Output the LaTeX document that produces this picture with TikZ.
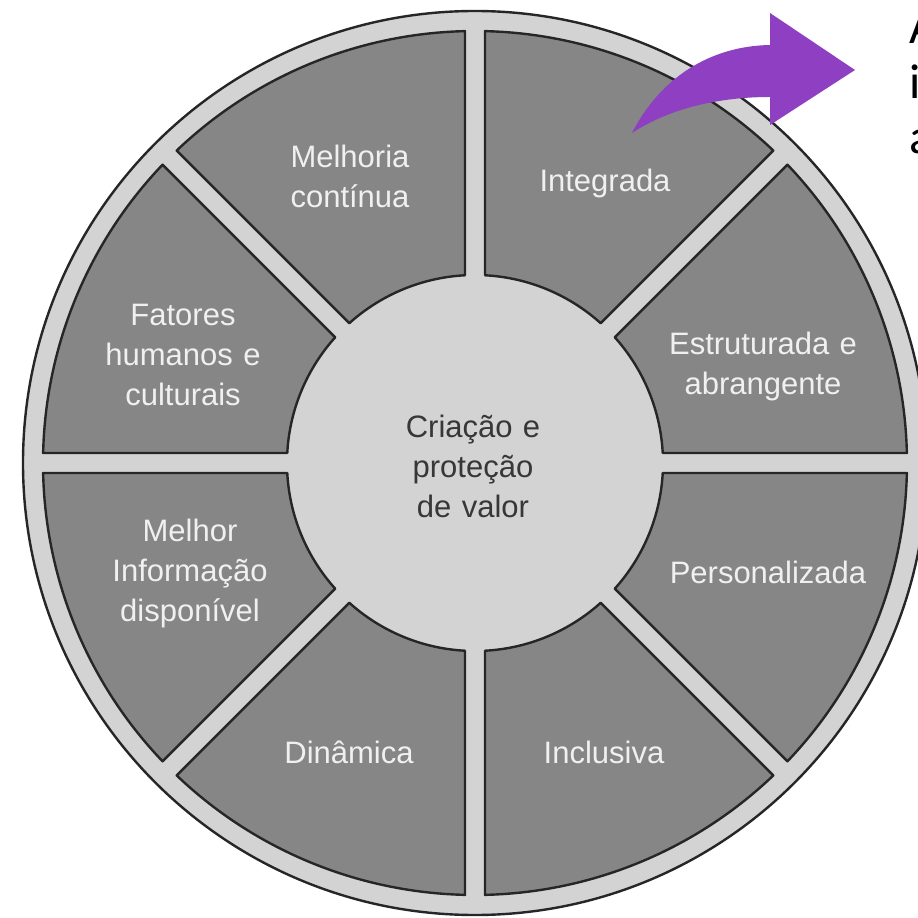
\documentclass[tikz,border=0pt]{standalone}
\usepackage{fontspec}
\setmainfont{Liberation Sans}
\newfontfamily\calfont{Carlito}
\definecolor{ringgray}{RGB}{211,211,211}
\definecolor{secgray}{RGB}{134,134,134}
\definecolor{edgedark}{RGB}{38,38,38}
\definecolor{arrowpurple}{RGB}{143,64,194}
\definecolor{centertext}{RGB}{55,55,55}
\definecolor{labeltext}{RGB}{240,240,240}
\begin{document}
\begin{tikzpicture}[x=1pt,y=1pt,
  sectorbox/.style={fill=secgray, draw=edgedark, line width=2.4pt, line join=round},
  seclabel/.style={text=labeltext, font=\fontsize{31}{40}\selectfont, align=center, text width=240pt, anchor=base, inner sep=0pt},
  corelabel/.style={text=centertext, font=\fontsize{31}{40}\selectfont, align=center, text width=240pt, anchor=base, inner sep=0pt},
  sidetext/.style={text=black, font=\calfont\fontsize{49}{55}\selectfont, align=left, text width=100pt, anchor=base west, inner sep=0pt}]
\useasboundingbox (-475,-455) rectangle (443,463);
\fill[white] (-475,-455) rectangle (443,463);
\node[circle, minimum size=904pt, fill=ringgray, draw=edgedark, line width=2.4pt, inner sep=0pt] (wheel) at (0,0) {};
\foreach \k in {0,...,7} {
  \pgfmathsetmacro\oa{\k*45+1.326}
  \pgfmathsetmacro\ob{\k*45+45-1.326}
  \pgfmathsetmacro\ia{\k*45+3.05}
  \pgfmathsetmacro\ib{\k*45+45-3.05}
  \draw[sectorbox] (\oa:432) arc[start angle=\oa, end angle=\ob, radius=432] -- (\ib:188) arc[start angle=\ib, end angle=\ia, radius=188] -- cycle;
}
\node[seclabel] (integrada) at (130,271) {Integrada};
\node[seclabel] (melhoria) at (-125,295) {Melhoria\\contínua};
\node[seclabel] (estruturada) at (288,108) {Estruturada e\\abrangente};
\node[seclabel] (personalizada) at (293,-120) {Personalizada};
\node[seclabel] (inclusiva) at (129,-300) {Inclusiva};
\node[seclabel] (dinamica) at (-126,-300) {Dinâmica};
\node[seclabel] (informacao) at (-285,-78) {Melhor\\Informação\\disponível};
\node[seclabel] (fatores) at (-292,137) {Fatores\\humanos e\\culturais};
\node[corelabel] (core) at (-2,25) {Criação e\\proteção\\de valor};
\fill[arrowpurple] (157,330) .. controls (185,385) and (235,417) .. (295,418) -- (295,450) -- (380,393) -- (295,338) -- (295,366) .. controls (245,366) and (195,355) .. (157,330) -- cycle;
\node[sidetext] (side) at (434,419) {A\\i\\a};
\end{tikzpicture}
\end{document}
